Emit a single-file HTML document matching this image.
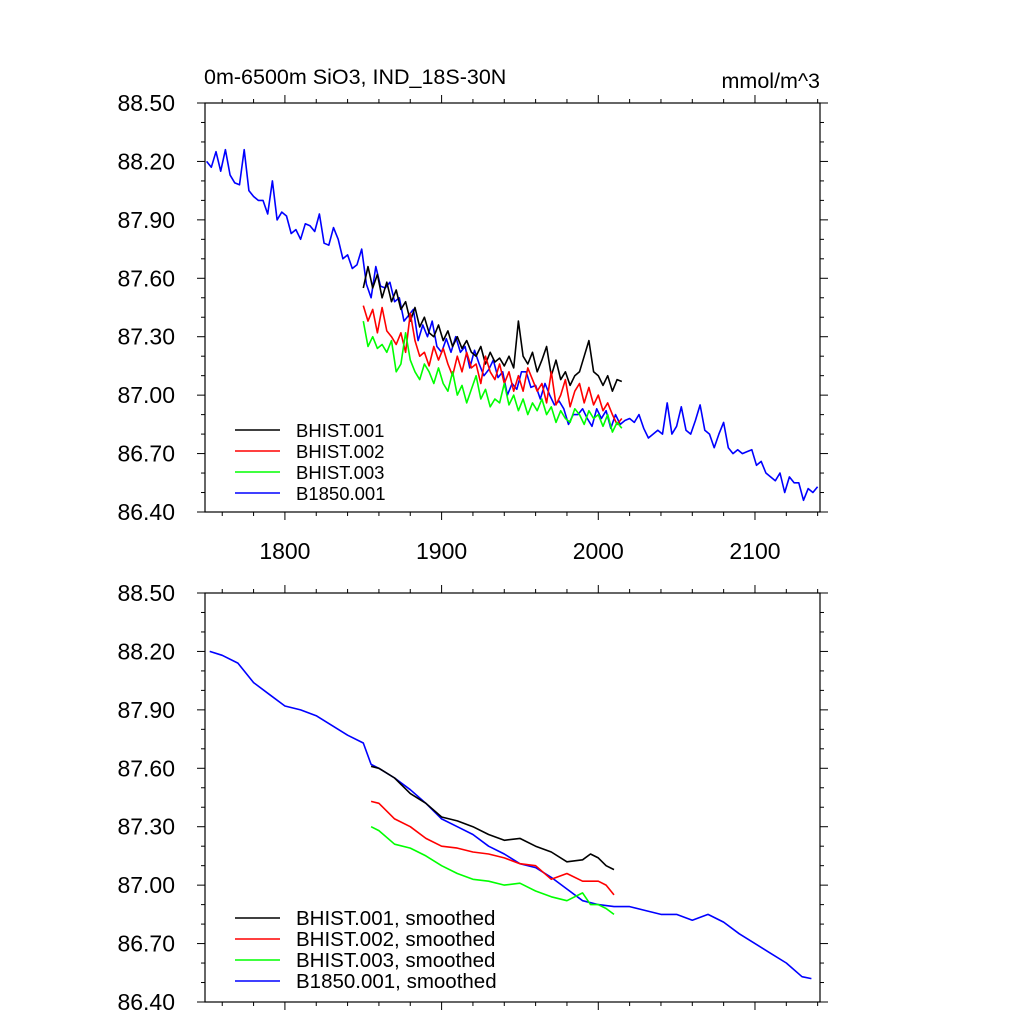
<!DOCTYPE html>
<html><head><meta charset="utf-8"><style>
body{margin:0;background:#fff}
svg{display:block;font-family:"Liberation Sans",sans-serif}
</style></head><body>
<svg id="c" width="1024" height="1024"></svg>
<script>
const years3B = [];for(let y=1750;y<=2140;y+=3)years3B.push(y);
const b1850 = [88.20,88.17,88.25,88.15,88.26,88.13,88.09,88.08,88.26,88.05,88.02,88.00,88.00,87.93,88.10,87.90,87.94,87.92,87.83,87.85,87.80,87.88,87.87,87.84,87.93,87.78,87.77,87.86,87.80,87.70,87.72,87.65,87.67,87.75,87.57,87.50,87.66,87.56,87.55,87.58,87.48,87.50,87.38,87.41,87.44,87.28,87.36,87.30,87.38,87.25,87.22,87.29,87.22,87.30,87.22,87.25,87.14,87.23,87.16,87.10,87.13,87.18,87.09,87.12,87.00,87.06,87.03,87.12,87.12,87.04,87.05,86.98,87.06,87.00,86.95,86.97,86.93,86.85,86.90,86.90,86.93,86.88,86.84,86.93,86.88,86.92,86.83,86.90,86.85,86.87,86.88,86.86,86.90,86.83,86.78,86.80,86.82,86.80,86.96,86.80,86.84,86.94,86.82,86.80,86.87,86.95,86.82,86.80,86.73,86.80,86.86,86.73,86.70,86.72,86.70,86.71,86.72,86.64,86.66,86.60,86.58,86.56,86.60,86.50,86.58,86.55,86.55,86.46,86.52,86.50,86.53];
const years3H = [];for(let y=1850;y<=2015;y+=3)years3H.push(y);
const bhist1 = [87.55,87.66,87.55,87.62,87.50,87.58,87.48,87.54,87.44,87.48,87.38,87.45,87.35,87.40,87.32,87.30,87.36,87.28,87.33,87.25,87.30,87.24,87.28,87.22,87.20,87.25,87.16,87.22,87.17,87.19,87.15,87.20,87.14,87.38,87.20,87.16,87.22,87.12,87.18,87.25,87.10,87.18,87.08,87.12,87.05,87.10,87.12,87.20,87.28,87.12,87.10,87.05,87.10,87.02,87.08,87.07];
const bhist2 = [87.46,87.38,87.44,87.32,87.45,87.33,87.30,87.26,87.32,87.22,87.42,87.28,87.20,87.22,87.15,87.25,87.18,87.24,87.16,87.10,87.20,87.12,87.22,87.14,87.16,87.06,87.20,87.12,87.08,87.16,87.06,87.12,87.02,87.10,87.02,87.14,87.08,87.02,87.06,86.96,87.12,86.95,87.00,87.08,86.94,87.02,87.06,86.96,87.04,86.95,87.00,86.92,86.96,86.90,86.85,86.88];
const bhist3 = [87.38,87.25,87.30,87.24,87.26,87.22,87.28,87.12,87.16,87.32,87.18,87.12,87.08,87.16,87.12,87.06,87.14,87.06,87.02,87.12,87.00,87.05,86.96,87.03,87.10,86.98,87.03,86.94,86.98,86.96,87.06,86.95,87.00,86.92,86.98,86.90,86.96,86.92,86.98,86.90,86.94,86.86,86.92,86.88,86.86,86.93,86.90,86.85,86.92,86.88,86.90,86.84,86.90,86.81,86.86,86.83];
const sYearsB = [1752,1760,1770,1780,1790,1800,1810,1820,1830,1840,1850,1855,1860,1870,1880,1890,1900,1910,1920,1930,1940,1950,1960,1970,1980,1990,2000,2010,2020,2030,2040,2050,2060,2070,2080,2090,2100,2110,2120,2130,2136];
const sB1850 = [88.20,88.18,88.14,88.04,87.98,87.92,87.90,87.87,87.82,87.77,87.73,87.62,87.60,87.55,87.49,87.42,87.34,87.30,87.26,87.20,87.16,87.11,87.09,87.04,86.98,86.92,86.90,86.89,86.89,86.87,86.85,86.85,86.82,86.85,86.81,86.75,86.70,86.65,86.60,86.53,86.52];
const sYearsH = [1855,1860,1870,1880,1890,1900,1910,1920,1930,1940,1950,1960,1970,1980,1990,1995,2000,2005,2010];
const sH1 = [87.61,87.60,87.55,87.47,87.42,87.35,87.33,87.30,87.26,87.23,87.24,87.20,87.17,87.12,87.13,87.16,87.14,87.10,87.08];
const sH2 = [87.43,87.42,87.34,87.30,87.24,87.20,87.19,87.17,87.16,87.14,87.11,87.10,87.03,87.06,87.02,87.02,87.02,87.00,86.95];
const sH3 = [87.30,87.28,87.21,87.19,87.15,87.10,87.06,87.03,87.02,87.00,87.01,86.97,86.94,86.92,86.96,86.90,86.90,86.88,86.85];
const yTicks = [88.5,88.2,87.9,87.6,87.3,87.0,86.7,86.4];
const xTicks = [1800,1900,2000,2100];

const NS="http://www.w3.org/2000/svg", svg=document.getElementById('c');
const X0=205,X1=820,XMIN=1749,XMAX=2141.5;
const sx=v=>X0+(v-XMIN)/(XMAX-XMIN)*(X1-X0);
function mk(t,a,p){const e=document.createElementNS(NS,t);for(const k in a)e.setAttribute(k,a[k]);(p||svg).appendChild(e);return e;}
function panel(top,bot,series,labels,legY,showX,name,legFs){
  const g=mk('g',{});
  
  
  const sy=v=>top+(88.5-v)/2.1*(bot-top);
  const fr=mk('rect',{x:X0,y:top,width:X1-X0,height:bot-top,fill:'none',stroke:'#000','stroke-width':1.2},g);
  
  for(let i=0;i<=21;i++){const v=86.4+i*0.1,y=sy(v),maj=i%3==0,L=maj?8:4;
    mk('line',{x1:X0,x2:X0-L,y1:y,y2:y,stroke:'#000'},g);mk('line',{x1:X1,x2:X1+L,y1:y,y2:y,stroke:'#000'},g);}
  yTicks.forEach(v=>{const t=mk('text',{x:175,y:sy(v)+8,'text-anchor':'end','font-size':23},g);t.textContent=v.toFixed(2);
    });
  for(let yr=1760;yr<=2140;yr+=20){const x=sx(yr),L=yr%100==0?8:4;
    mk('line',{x1:x,x2:x,y1:bot,y2:bot+L,stroke:'#000'},g);mk('line',{x1:x,x2:x,y1:top,y2:top-L,stroke:'#000'},g);}
  if(showX)xTicks.forEach(v=>{const t=mk('text',{x:sx(v),y:bot+47,'text-anchor':'middle','font-size':23},g);t.textContent=v;
    });
  const cols=['#000','#f00','#0f0','#00f'];
  series.forEach((s,i)=>{const d=s[0].map((yr,j)=>(j?'L':'M')+sx(yr).toFixed(1)+','+sy(s[1][j]).toFixed(1)).join('');
    const p=mk('path',{d:d,fill:'none',stroke:cols[s[2]],'stroke-width':1.6,'stroke-linejoin':'round'},g);
    });
  labels.forEach((l,i)=>{const y=legY+i*21;
    mk('line',{x1:235,x2:280,y1:y,y2:y,stroke:cols[i],'stroke-width':1.6},g);
    const t=mk('text',{x:296,y:y+7,'font-size':legFs},g);t.textContent=l;
    });
}
panel(103,512,[[years3B,b1850,3],[years3H,bhist1,0],[years3H,bhist2,1],[years3H,bhist3,2]],
 ['BHIST.001','BHIST.002','BHIST.003','B1850.001'],430,true,'top-panel',18.5);
panel(593,1002,[[sYearsB,sB1850,3],[sYearsH,sH1,0],[sYearsH,sH2,1],[sYearsH,sH3,2]],
 ['BHIST.001, smoothed','BHIST.002, smoothed','BHIST.003, smoothed','B1850.001, smoothed'],918,false,'bottom-panel',20.5);
let t=mk('text',{x:204,y:84,'font-size':21.5});t.textContent='0m-6500m SiO3, IND_18S-30N';

t=mk('text',{x:820,y:88,'font-size':21.5,'text-anchor':'end'});t.textContent='mmol/m^3';

</script>
</body></html>
